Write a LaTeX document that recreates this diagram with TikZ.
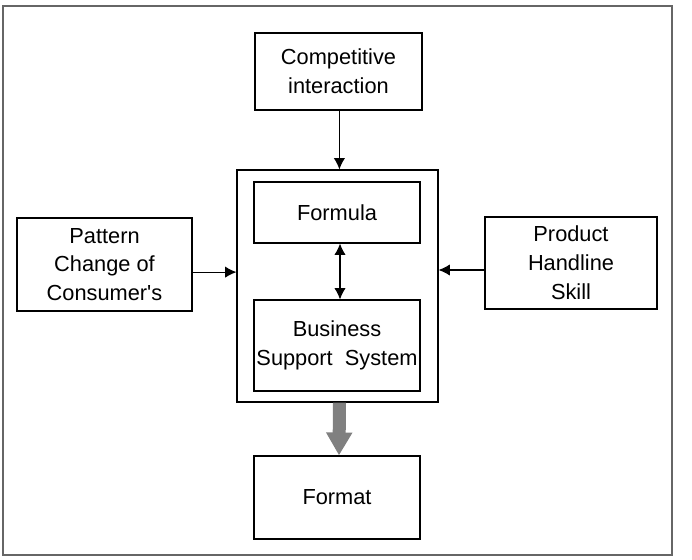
\documentclass[tikz,border=0pt]{standalone}
\usepackage{fontspec}
\setmainfont{Liberation Sans}
\usepackage{tikz}
\usetikzlibrary{arrows.meta,positioning,calc}
\begin{document}
\begin{tikzpicture}[
  block/.style={draw=black,line width=0.8pt,align=center,font=\fontsize{15.5}{20.5}\selectfont,inner sep=0pt},
  flow/.style={-{Latex[length=2.8mm,width=2.8mm]},line width=0.8pt},
  both/.style={{Latex[length=2.8mm,width=2.8mm]}-{Latex[length=2.8mm,width=2.8mm]},line width=0.8pt},
  bigflow/.style={-{Triangle[length=5.75mm,width=6.2mm]},line width=3.25mm,draw=black!50}]
\useasboundingbox (0,0) rectangle (17.3,-13.975);
\draw[black!60,line width=1pt] (0.075,-0.15) rectangle (16.8,-13.875);
\node[block,minimum width=4.175cm,minimum height=1.925cm] (comp) at (8.4625,-1.7875) {Competitive\\interaction};
\node[block,minimum width=5.025cm,minimum height=5.8cm] (core) at (8.4375,-7.15) {};
\node[block,minimum width=4.15cm,minimum height=1.525cm] (formula) at (8.425,-5.3125) {Formula};
\node[block,minimum width=4.15cm,minimum height=2.275cm] (support) at (8.425,-8.6375) {Business\\Support~~System};
\node[block,minimum width=4.375cm,minimum height=2.325cm] (pattern) at (2.6125,-6.6125) {Pattern\\Change of\\Consumer\textquotesingle s};
\node[block,minimum width=4.3cm,minimum height=2.3cm] (product) at (14.275,-6.575) {Product\\Handline\\Skill};
\node[block,minimum width=4.15cm,minimum height=2.075cm] (format) at (8.425,-12.4375) {Format};
\draw[flow] (comp.south -| formula.south) ++(0.06,0) coordinate (ct) -- (ct |- core.north);
\draw[flow] ([yshift=-0.19cm]pattern.east) coordinate (pl) -- (pl -| core.west);
\draw[flow] ([yshift=-0.175cm]product.west) coordinate (pr) -- (pr -| core.east);
\draw[both] ([xshift=0.075cm]formula.south) -- ([xshift=0.075cm]support.north);
\draw[bigflow] ([xshift=0.05cm]core.south) -- ([xshift=0.05cm]format.north);
\end{tikzpicture}
\end{document}
